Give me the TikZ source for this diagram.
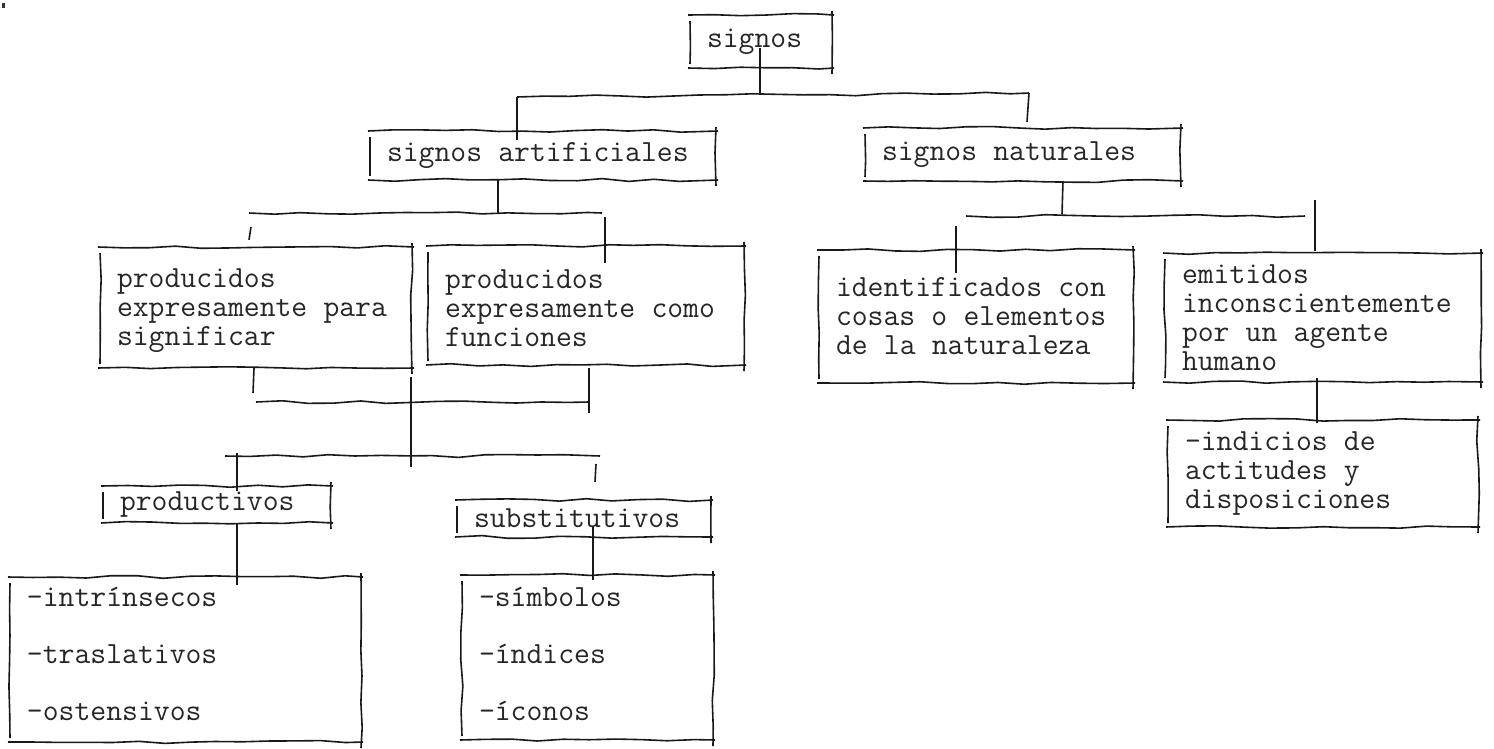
\documentclass[tikz,border=0pt]{standalone}
\usepackage{fontspec}
\usetikzlibrary{decorations.pathmorphing,calc}
\tikzset{
 rough/.style={line width=1.6pt, draw=black!90, decorate, decoration={random steps, segment length=26pt, amplitude=1.4pt}},
 plain/.style={line width=1.6pt, draw=black!90},
 boxtext/.style={inner xsep=17pt, inner ysep=0pt, align=left, text=black!85, font=\ttfamily\fontsize{30.8}{29}\selectfont, anchor=center},
}
\newcommand\monosp{\spaceskip=16.17pt\relax\xspaceskip=16.17pt\relax}
\newcommand\mkbox[7][0]{%
 \pgfmathsetmacro\bxw{#5-#3}\pgfmathsetmacro\bxh{#6-#4}\pgfmathsetmacro\bxt{#5-#3-34}%
 \pgfmathsetmacro\bxcx{(#3+#5)/2}\pgfmathsetmacro\bxcy{(#4+#6)/2+#1}%
 \node[boxtext, minimum width=\bxw pt, minimum height=\bxh pt, text width=\bxt pt] (#2) at (\bxcx,\bxcy) {\monosp #7};%
 \draw[rough] (#3-2,#4) -- (#5+2,#4);%
 \draw[rough] (#3-2,#6) -- (#5+2,#6);%
 \draw[rough] (#3,#4+6) -- (#3,#6-4);%
 \draw[rough] (#5,#4-4) -- (#5,#6+6);%
}
\begin{document}
\begin{tikzpicture}[x=1pt,y=-1pt]
\useasboundingbox (0,0) rectangle (1494,748);
\pgfmathsetseed{7}
\fill[black!80] (2,3) rectangle (5,8);
% boxes
\mkbox{signos}{690}{15}{832}{68}{signos}
\mkbox{art}{370}{131}{716}{180}{signos artificiales}
\mkbox{nat}{865}{128}{1181}{181}{signos naturales}
\mkbox[3]{pA}{100}{247}{412}{368}{producidos\\expresamente para\\significar}
\mkbox[3]{pB}{428}{246}{744}{365}{producidos\\expresamente como\\funciones}
\mkbox{prodv}{103}{486}{331}{523}{productivos}
\mkbox{subst}{457}{500}{711}{537}{substitutivos}
\mkbox[-6]{lbig}{10}{577}{361}{742}{-intrínsecos\\[28pt]-traslativos\\[28pt]-ostensivos}
\mkbox[-4]{rbig}{462}{575}{713}{740}{-símbolos\\[28pt]-índices\\[28pt]-íconos}
\mkbox{ident}{819}{250}{1133}{383}{identificados con\\cosas o elementos\\de la naturaleza}
\mkbox{emit}{1165}{253}{1481}{382}{emitidos\\inconscientemente\\por un agente\\humano}
\mkbox{indic}{1168}{420}{1478}{527}{-indicios de\\actitudes y\\disposiciones}
% signos -> artificiales / naturales
\coordinate (j1) at (760,95);
\coordinate (b1a) at (517,97);
\coordinate (b1b) at (1029,93);
\draw[plain] ($(signos.south -| j1)+(0,-20)$) -- (j1);
\draw[rough] (b1a) -- (b1b);
\draw[plain] (b1a) -- ($(b1a |- art.north)+(0,9)$);
\draw[plain] (b1b) -- ($(b1b |- nat.north)+(-2,-6)$);
% artificiales -> producidos
\coordinate (j2) at (498,213);
\coordinate (b2a) at (249,213);
\coordinate (b2b) at (602,213);
\draw[plain] (art.south -| j2) -- (j2);
\draw[rough] (b2a) -- (b2b);
\draw[plain] ($(b2a)+(2,14)$) -- ($(b2a |- pA.north)+(0,-10)$);
\draw[plain] ($(b2b)+(3,4)$) -- ($(b2b |- pB.north)+(3,14)$);
% producidos -> productivos / substitutivos
\coordinate (s3a) at (253,393);
\coordinate (s3b) at (589,413);
\coordinate (c3a) at (256,402);
\coordinate (c3b) at (589,402);
\coordinate (v3a) at (411,377);
\coordinate (v3b) at (411,467);
\coordinate (d3a) at (225,456);
\coordinate (d3b) at (600,456);
\coordinate (e3a) at (237,456);
\coordinate (e3b) at (596,464);
\draw[plain] ($(pA.south -| s3a)+(1,-3)$) -- (s3a);
\draw[plain] (pB.south -| s3b) -- (s3b);
\draw[rough] (c3a) -- (c3b);
\draw[plain] (v3a) -- (v3b);
\draw[rough] (d3a) -- (d3b);
\draw[plain] ($(e3a)+(0,-3)$) -- ($(e3a |- prodv.north)+(0,5)$);
\draw[plain] (e3b) -- ($(e3b |- subst.north)+(-1,-18)$);
% productivos -> list, substitutivos -> list
\coordinate (k5) at (593,520);
\draw[plain] (prodv.south -| e3a) -- ($(e3a |- lbig.north)+(0,14)$);
\draw[plain] ($(subst.south -| k5)+(0,-10)$) -- ($(k5 |- rbig.north)+(0,9)$);
% naturales -> identificados / emitidos
\coordinate (j6) at (1062,214);
\coordinate (b6a) at (966,216);
\coordinate (b6b) at (1305,216);
\coordinate (e6a) at (956,226);
\coordinate (e6b) at (1315,200);
\draw[plain] ($(nat.south -| j6)+(1,0)$) -- (j6);
\draw[rough] (b6a) -- (b6b);
\draw[plain] (e6a) -- ($(e6a |- ident.north)+(0,23)$);
\draw[plain] (e6b) -- ($(e6b |- emit.north)+(0,-2)$);
% emitidos -> indicios
\coordinate (k7) at (1317,400);
\draw[plain] ($(emit.south -| k7)+(0,-4)$) -- ($(k7 |- indic.north)+(0,3)$);
\end{tikzpicture}
\end{document}
